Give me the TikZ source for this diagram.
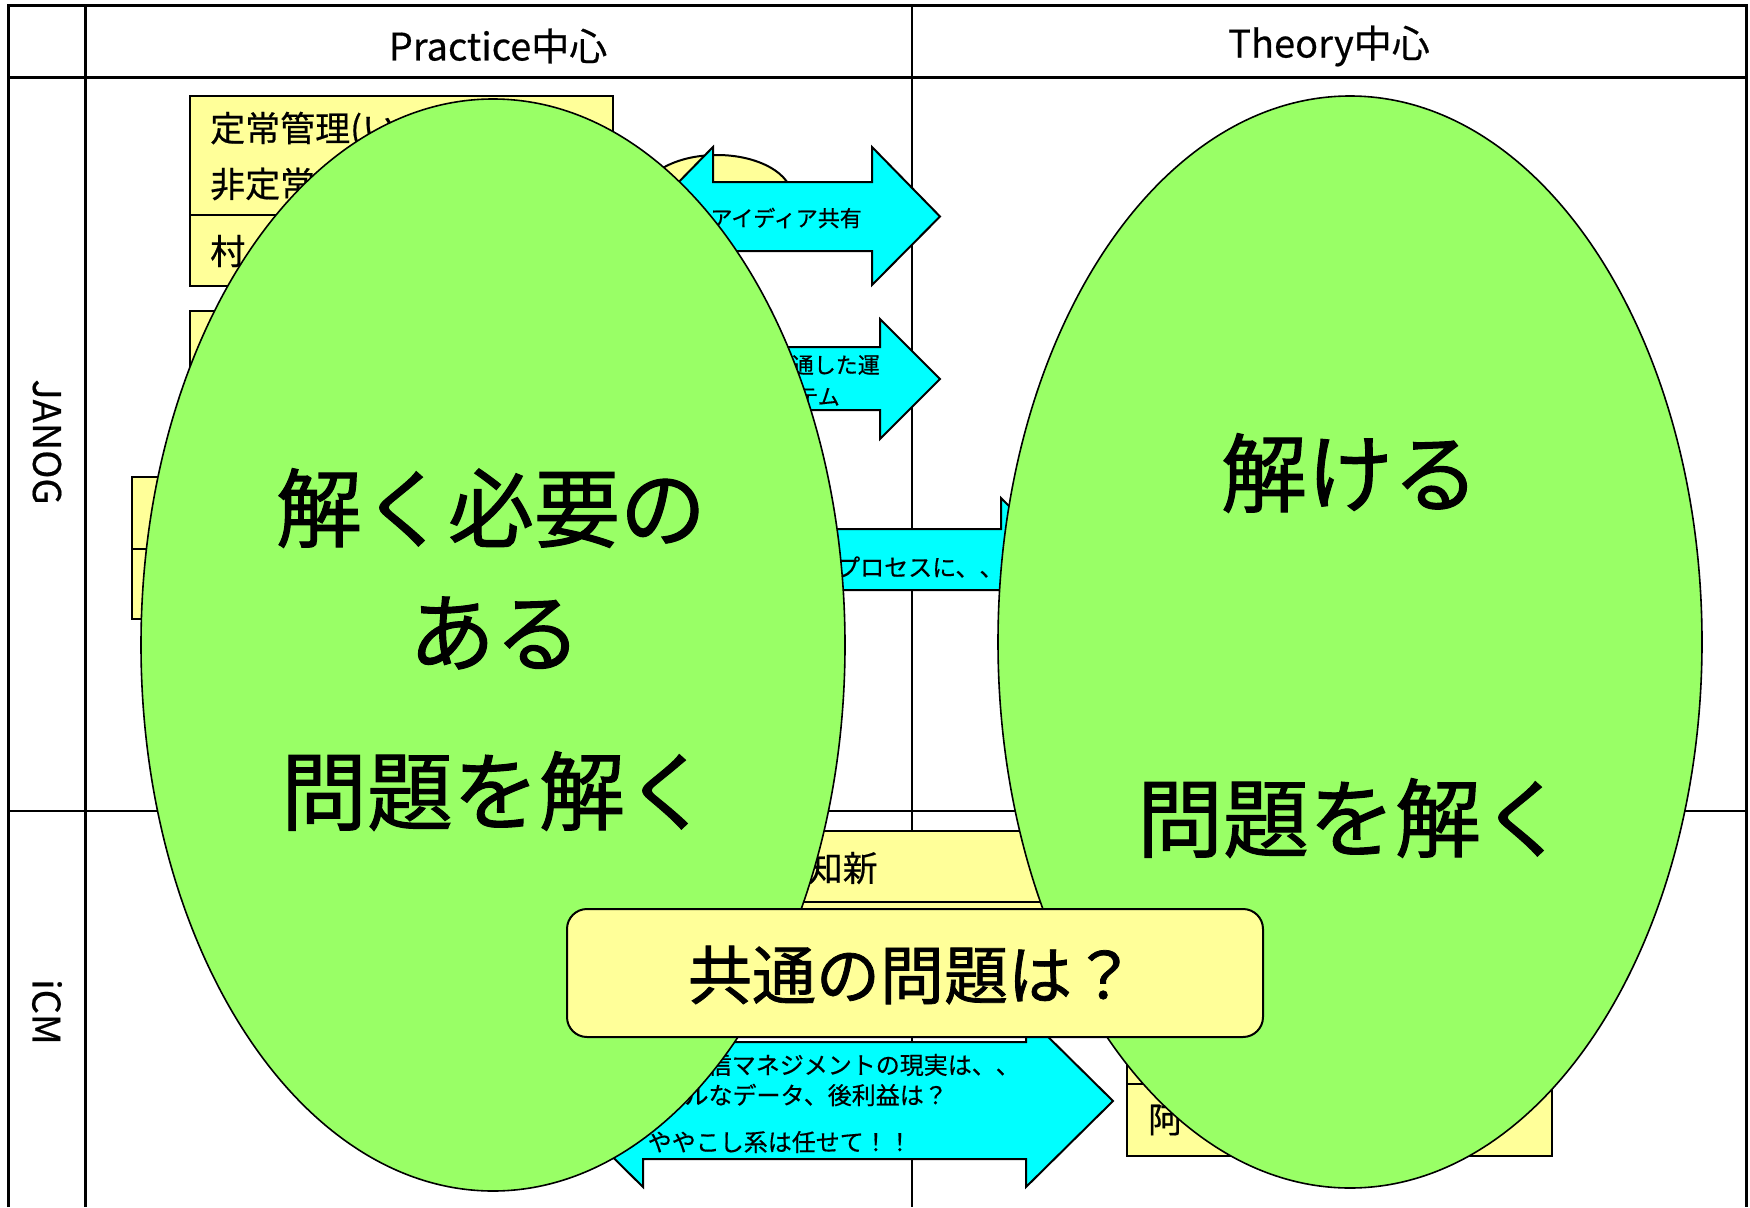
\documentclass[tikz,border=0pt]{standalone}
\usepackage{fontspec}
\setmainfont{Noto Sans CJK JP}[FakeBold=0.5]
\newfontfamily\heavyjp{Noto Sans CJK JP}[FakeBold=1.2]
\usetikzlibrary{shapes.geometric}
\definecolor{grn}{HTML}{99FF66}
\definecolor{yel}{HTML}{FFFF99}
\definecolor{cyn}{HTML}{00FFFF}
\newcommand{\myfs}[1]{\fontsize{#1}{#1}\selectfont}
\begin{document}
\begin{tikzpicture}[x=1pt,y=-1pt,
  tblthick/.style={line width=3pt},
  tblthin/.style={line width=2pt},
  ybox/.style={fill=yel,draw=black,line width=2.5pt},
  yline/.style={draw=black,line width=2.5pt},
  carrow/.style={fill=cyn,draw=black,line width=2pt,line join=miter},
  bigell/.style={ellipse,fill=grn,draw=black,line width=1.6pt,inner sep=0pt,
     minimum width=704pt,minimum height=1092pt},
  hdr/.style={font=\myfs{38},inner sep=0pt},
  boxtxt/.style={font=\myfs{35},inner sep=0pt},
  arrtxt/.style={font=\myfs{22},inner sep=0pt},
  arrtxtb/.style={font=\myfs{24},inner sep=0pt},
  bigtxt/.style={font=\heavyjp\myfs{86},inner sep=0pt},
  qtxt/.style={font=\heavyjp\myfs{64},inner sep=0pt},
  qbox/.style={fill=yel,draw=black,line width=2pt,rounded corners=20pt,
     minimum width=696pt,minimum height=128pt,inner sep=0pt}
]
\useasboundingbox (0,0) rectangle (1750,1207);
\fill[white] (0,0) rectangle (1750,1207);

% ---- table ----
\draw[tblthick] (8,1207) -- (8,6) -- (1746,6) -- (1746,1207);
\draw[tblthick] (8,77) -- (1746,77);
\draw[tblthick] (85,6) -- (85,1207);
\draw[tblthin] (912,6) -- (912,1207);
\draw[tblthin] (8,811) -- (1746,811);

\node[hdr] (hP) at (498,46) {Practice中心};
\node[hdr] (hT) at (1329,46) {Theory中心};
\node[hdr,rotate=-90] (lJ) at (47,442) {JANOG};
\node[hdr,rotate=-90] (lI) at (47,1012) {iCM};

% ---- yellow boxes (behind) ----
\draw[ybox] (190,96) rectangle (613,286);
\draw[yline] (190,215) -- (613,215);
\node[boxtxt,anchor=west] (b1a) at (210,130) {定常管理(い};
\node[boxtxt,anchor=west] (b1b) at (210,184) {非定常};
\node[boxtxt,anchor=west] (b1c) at (210,251) {村};

\draw[ybox] (190,311) rectangle (600,440);

\draw[ybox] (132,477) rectangle (500,619);
\draw[yline] (132,549) -- (500,549);

\draw[ybox] (650,831) rectangle (1200,902);
\node[boxtxt,anchor=east] (b4) at (878,868) {温故知新};
\draw[ybox] (650,902) rectangle (1200,1000);

\draw[ybox] (1127,1012) rectangle (1552,1156);
\draw[yline] (1127,1084) -- (1552,1084);
\node[boxtxt,anchor=west] (b5) at (1148,1120) {阿};

\node[ellipse,fill=yel,draw=black,line width=2pt,minimum width=150pt,minimum height=84pt,inner sep=0pt] (ye) at (717,197) {};

% ---- cyan arrows ----
\draw[carrow] (645,216.5) -- (713,147) -- (713,182) -- (872,182) -- (872,147)
   -- (940,216.5) -- (872,285) -- (872,251) -- (713,251) -- (713,285) -- cycle;
\node[arrtxt,anchor=east] (a1) at (862,218) {アイディア共有};

\draw[carrow] (620,347) -- (880,347) -- (880,319) -- (940,379) -- (880,439)
   -- (880,410) -- (620,410) -- cycle;
\node[arrtxt,anchor=east] (a2a) at (880,365) {通した運};
\node[arrtxt,anchor=east] (a2b) at (840,397) {テム};

\draw[carrow] (600,529) -- (1001,529) -- (1001,498) -- (1062,559.5) -- (1001,621)
   -- (1001,590) -- (600,590) -- cycle;
\node[arrtxtb,anchor=west] (a3) at (836,567) {プロセスに、、};

\draw[carrow] (556,1101) -- (643,1015) -- (643,1042) -- (1026,1042) -- (1026,1015)
   -- (1113,1101) -- (1026,1187) -- (1026,1159) -- (643,1159) -- (643,1187) -- cycle;
\node[arrtxtb,anchor=east] (a4a) at (1020,1065) {通信マネジメントの現実は、、};
\node[arrtxtb,anchor=east] (a4b) at (948,1095) {リアルなデータ、後利益は？};
\node[arrtxtb,anchor=east] (a4c) at (912,1142) {ややこし系は任せて！！};

% ---- green ellipses ----
\node[bigell] (eL) at (493,645) {};
\node[bigell] (eR) at (1350,642) {};

\node[bigtxt] (L1) at (491,508) {解く必要の};
\node[bigtxt] (L2) at (495,633) {ある};
\node[bigtxt] (L3) at (496,791) {問題を解く};
\node[bigtxt] (R1) at (1350,473) {解ける};
\node[bigtxt] (R2) at (1352,818) {問題を解く};

% ---- common question ----
\node[qbox] (Q) at (915,973) {};
\node[qtxt] (Qt) at (912,975) {共通の問題は？};
\end{tikzpicture}
\end{document}
